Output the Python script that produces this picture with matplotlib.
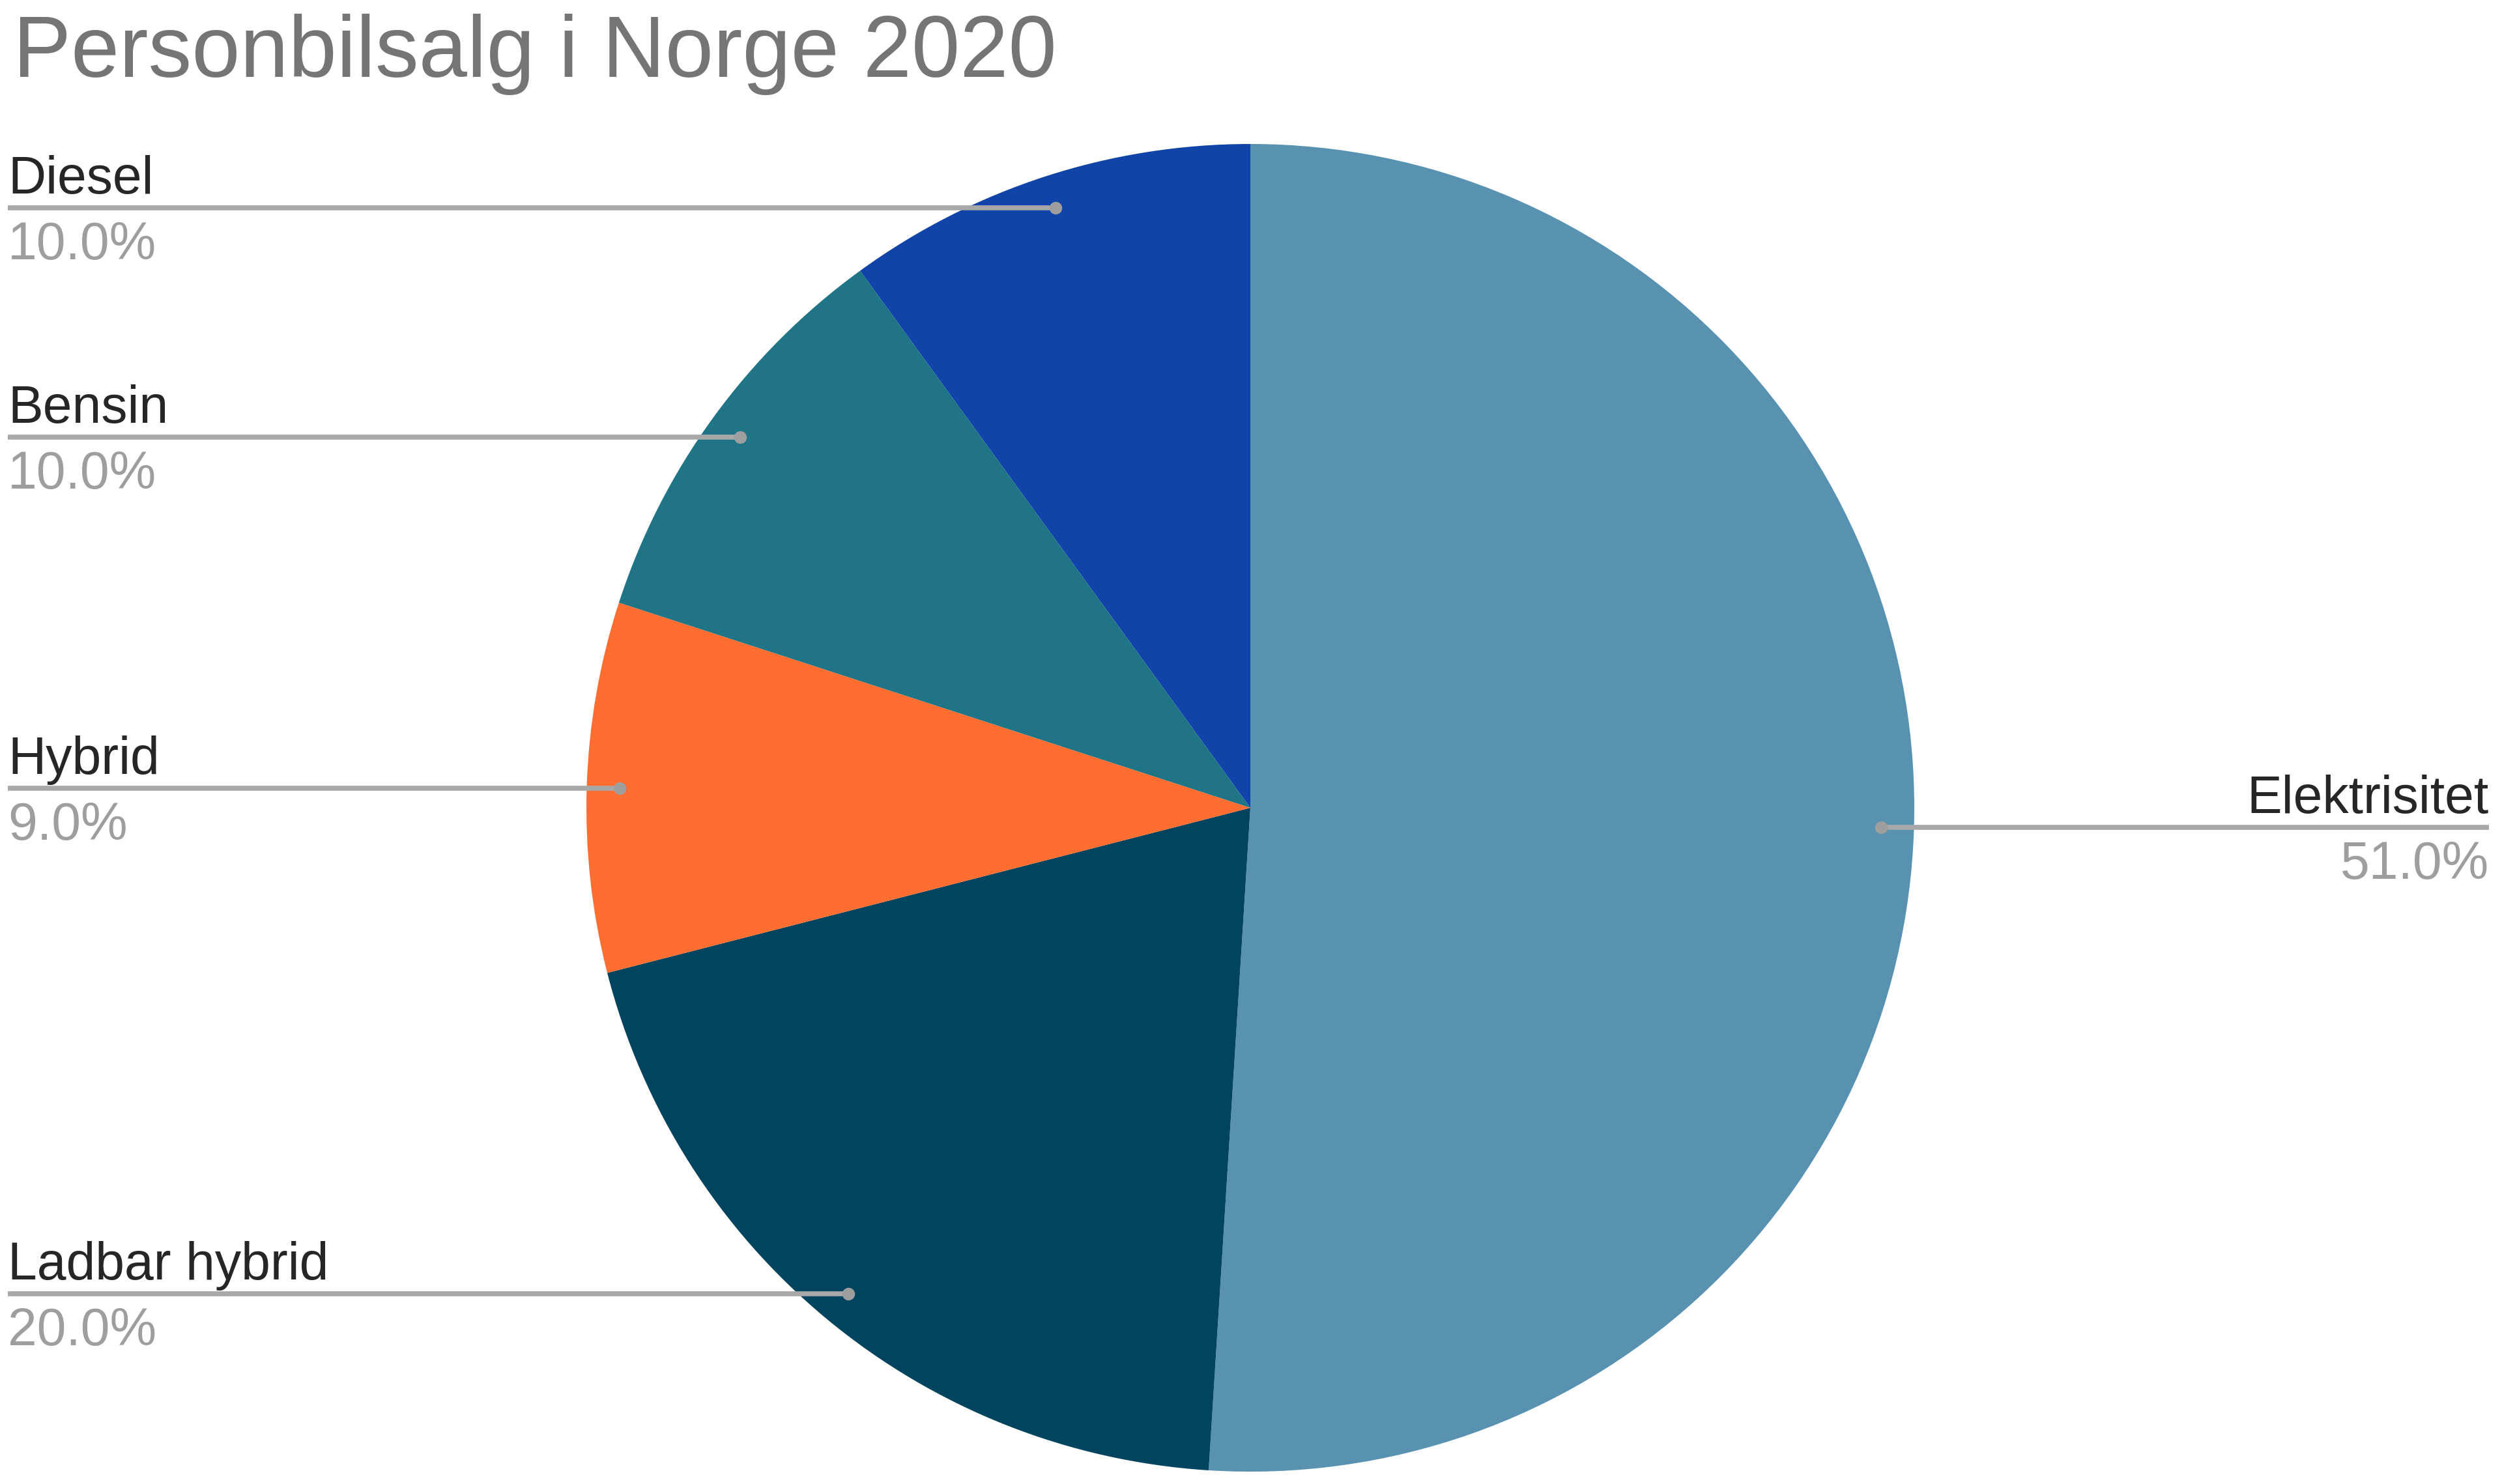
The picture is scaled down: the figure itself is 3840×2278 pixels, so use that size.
import numpy as np
import matplotlib
matplotlib.use("Agg")
import matplotlib.pyplot as plt

plt.rcParams["font.family"] = ["Liberation Sans", "DejaVu Sans"]

# Data (clockwise from 12 o'clock)
categories = ["Elektrisitet", "Ladbar hybrid", "Hybrid", "Bensin", "Diesel"]
shares = [51.0, 20.0, 9.0, 10.0, 10.0]
colors = ["#5992b0", "#01445f", "#ff6d31", "#1f7585", "#1044a8"]

W, H = 3840, 2278


def main():
    fig = plt.figure(figsize=(W / 100, H / 100), dpi=100)
    ax = fig.add_axes([0, 0, 1, 1])

    cx, cy, r = 1919, H - 1240, 1019
    wedges, _ = ax.pie(shares, colors=colors, startangle=90, counterclock=False,
                       center=(cx, cy), radius=r,
                       wedgeprops=dict(linewidth=0))
    ax.set_xlim(0, W)
    ax.set_ylim(0, H)
    ax.set_aspect("equal")
    ax.axis("off")

    # Leader lines with labels
    for w, name, val in zip(wedges, categories, shares):
        mid = np.deg2rad((w.theta1 + w.theta2) / 2)
        dx = cx + 0.95 * r * np.cos(mid)
        dy = cy + 0.95 * r * np.sin(mid)
        if np.cos(mid) >= 0:
            x_end, ha = 3820, "right"
        else:
            x_end, ha = 12, "left"
        ax.plot([dx, x_end], [dy, dy], color="#a8a8a8", lw=5.5,
                solid_capstyle="butt", zorder=3)
        ax.plot(dx, dy, "o", color="#9e9e9e", ms=14, mew=0, zorder=4)
        ax.text(x_end, dy + 22, name, ha=ha, va="baseline",
                fontsize=58, color="#262626")
        ax.text(x_end, dy - 79, f"{val:.1f}%", ha=ha, va="baseline",
                fontsize=58, color="#9e9e9e")

    ax.text(20, H - 118, "Personbilsalg i Norge 2020", ha="left",
            va="baseline", fontsize=96, color="#757575")

    fig.savefig("out.png", dpi=100)


if __name__ == "__main__":
    main()
